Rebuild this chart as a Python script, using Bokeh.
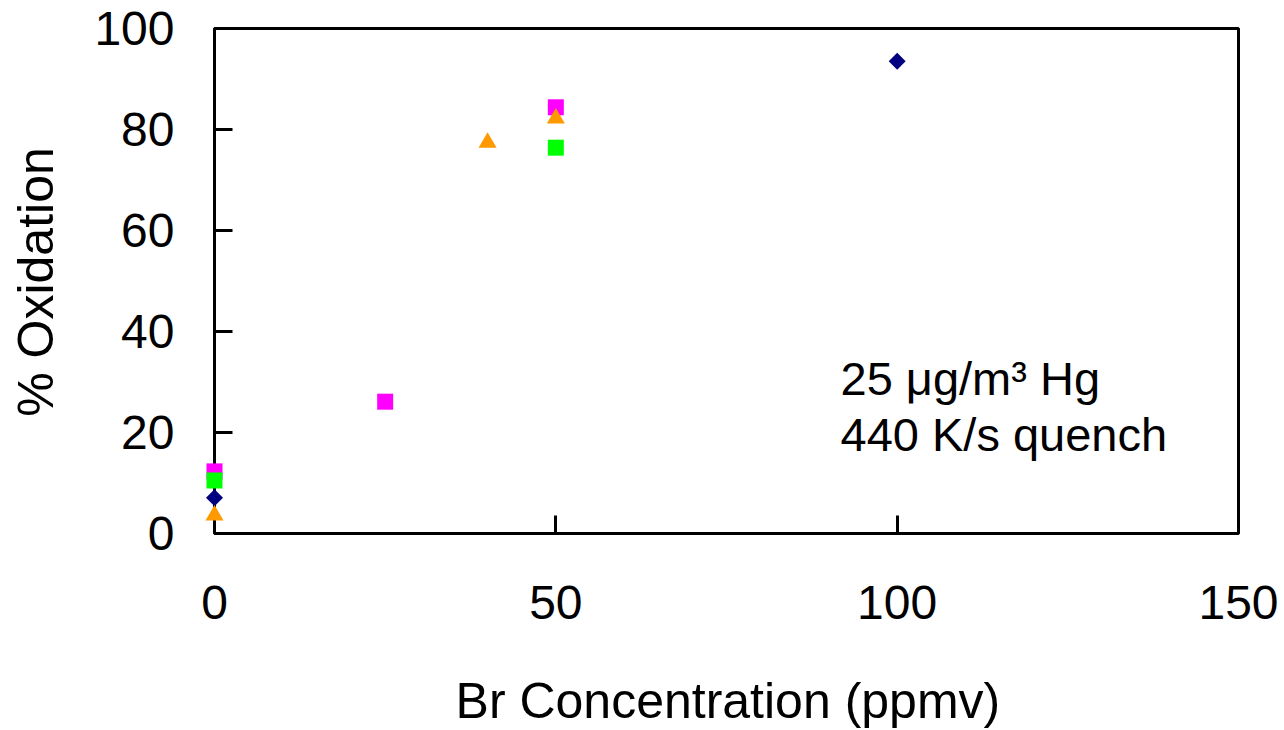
from bokeh.plotting import figure
from bokeh.models import Range1d, FixedTicker, Label
from bokeh.core.properties import value
from bokeh.embed import file_html
from bokeh.resources import INLINE
import math

# ---- data ----
navy_x = [0, 100]
navy_y = [7.1, 93.5]
magenta_x = [0, 25, 50]
magenta_y = [12.3, 26.1, 84.4]
green_x = [0, 50]
green_y = [10.5, 76.4]
orange_x = [0, 40, 50]
orange_y = [3.6, 77.4, 82.2]
x_ticks = [0, 50, 100, 150]
y_ticks = [0, 20, 40, 60, 80, 100]
x_title = "Br Concentration (ppmv)"
y_title = "% Oxidation"
note_lines = ["25 \u03bcg/m\u00b3 Hg", "440 K/s quench"]

FONT = "Liberation Sans"

p = figure(width=1284, height=730, output_backend="svg", toolbar_location=None,
           x_range=Range1d(x_ticks[0], x_ticks[-1]), y_range=Range1d(y_ticks[0], y_ticks[-1]),
           min_border_left=214, min_border_right=46, min_border_top=28,
           min_border_bottom=197)
p.outline_line_color = "black"
p.outline_line_width = 3
p.xgrid.visible = False
p.ygrid.visible = False
p.background_fill_color = "white"
p.border_fill_color = "white"

for ax, ticks in ((p.xaxis, x_ticks), (p.yaxis, y_ticks)):
    ax.ticker = FixedTicker(ticks=ticks)
    ax.minor_tick_line_color = None
    ax.major_tick_in = 18
    ax.major_tick_out = 0
    ax.major_tick_line_width = 3
    ax.major_tick_line_color = "black"
    ax.axis_line_width = 3
    ax.axis_line_color = "black"
    ax.major_label_text_font = FONT
    ax.major_label_text_font_size = "48px"
    ax.major_label_text_color = "black"

p.xaxis.major_label_standoff = 52
p.yaxis.major_label_standoff = 40

# axis titles as unclipped text (overlay level)
p.text(x=[75.2], y=[-33.1], text=[x_title], text_font=value(FONT), text_font_size="50px",
       text_align="center", text_baseline="middle", text_color="black", level="overlay")
p.text(x=[-26.2], y=[49.8], text=[y_title], text_font=value(FONT), text_font_size="50px",
       text_align="center", text_baseline="middle", angle=math.pi / 2,
       text_color="black", level="overlay")

p.scatter(navy_x, navy_y, marker="square", size=12, angle=math.pi / 4,
          fill_color="#000080", line_color=None, level="overlay")
p.scatter(magenta_x, magenta_y, marker="square", size=16,
          fill_color="#FF00FF", line_color=None, level="overlay")
p.scatter(green_x, green_y, marker="square", size=16,
          fill_color="#00FF00", line_color=None, level="overlay")
p.scatter(orange_x, orange_y, marker="triangle", size=18,
          fill_color="#FF9900", line_color=None, level="overlay")

for txt, yy in zip(note_lines, [30.7, 19.6]):
    p.add_layout(Label(x=91.7, y=yy, text=txt, text_font=FONT, text_font_size="47px",
                       text_baseline="middle", text_color="black"))

open("out.html", "w").write(file_html(p, INLINE))
